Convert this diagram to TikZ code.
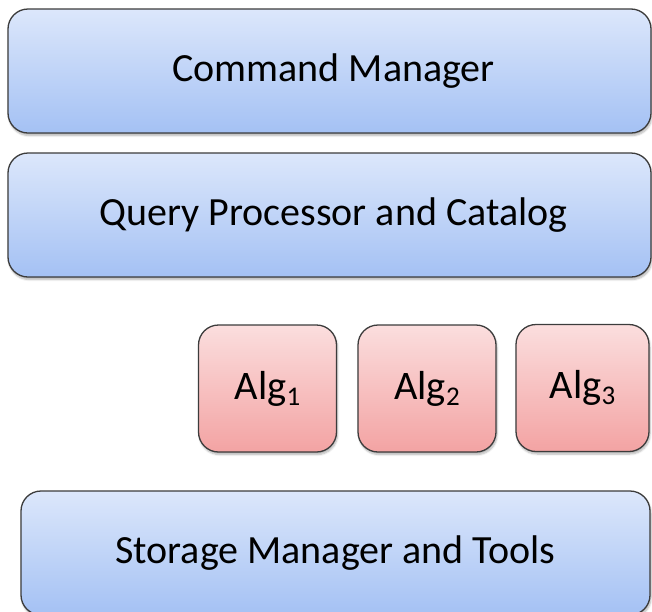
\documentclass[tikz,border=0pt]{standalone}
\usepackage{fontspec}
\setmainfont{Carlito}
\usetikzlibrary{shadows.blur}
\definecolor{layertop}{HTML}{DCE7FB}
\definecolor{layerbot}{HTML}{A4C1F4}
\definecolor{algtop}{HTML}{FBDEDE}
\definecolor{algbot}{HTML}{F3A3A3}
\definecolor{edge}{HTML}{3C3C3C}
% subscript set the way the slide font does it: larger and lower than \textsubscript
\newcommand{\algsub}[1]{\raisebox{-0.32ex}{\fontsize{27}{30}\selectfont #1}}
\tikzset{
  layer/.style={draw=edge, line width=1.3pt, rounded corners=20pt,
    top color=layertop, bottom color=layerbot,
    blur shadow={shadow xshift=1pt, shadow yshift=-2.5pt, shadow blur steps=6, shadow opacity=30},
    font=\fontsize{40}{44}\selectfont, text=black, inner sep=0pt},
  alg/.style={draw=edge, line width=1.3pt, rounded corners=20pt,
    top color=algtop, bottom color=algbot,
    blur shadow={shadow xshift=1pt, shadow yshift=-2.5pt, shadow blur steps=6, shadow opacity=30},
    font=\fontsize{40.5}{44}\selectfont, text=black, inner sep=0pt,
    minimum width=138pt, minimum height=127pt}
}
\begin{document}
\begin{tikzpicture}[x=1pt,y=-1pt]
  \useasboundingbox (0,0) rectangle (652,611);
  \clip (0,0) rectangle (652,611);
  \node[layer, minimum width=643pt, minimum height=124pt] (cmd) at (329.5,71) {\hspace*{8pt}Command Manager};
  \node[layer, minimum width=643pt, minimum height=124pt] (qp) at (329.5,215) {\hspace*{8pt}Query Processor and Catalog};
  \node[alg] (alg1) at (267.5,388.5) {Alg\algsub{1}};
  \node[alg] (alg2) at (427,388.5) {Alg\algsub{2}};
  \node[alg, minimum width=133pt] (alg3) at (582.5,388) {Alg\algsub{3}};
  \node[layer, minimum width=629pt, minimum height=124pt] (stor) at (335.5,553) {Storage Manager and Tools};
\end{tikzpicture}
\end{document}
